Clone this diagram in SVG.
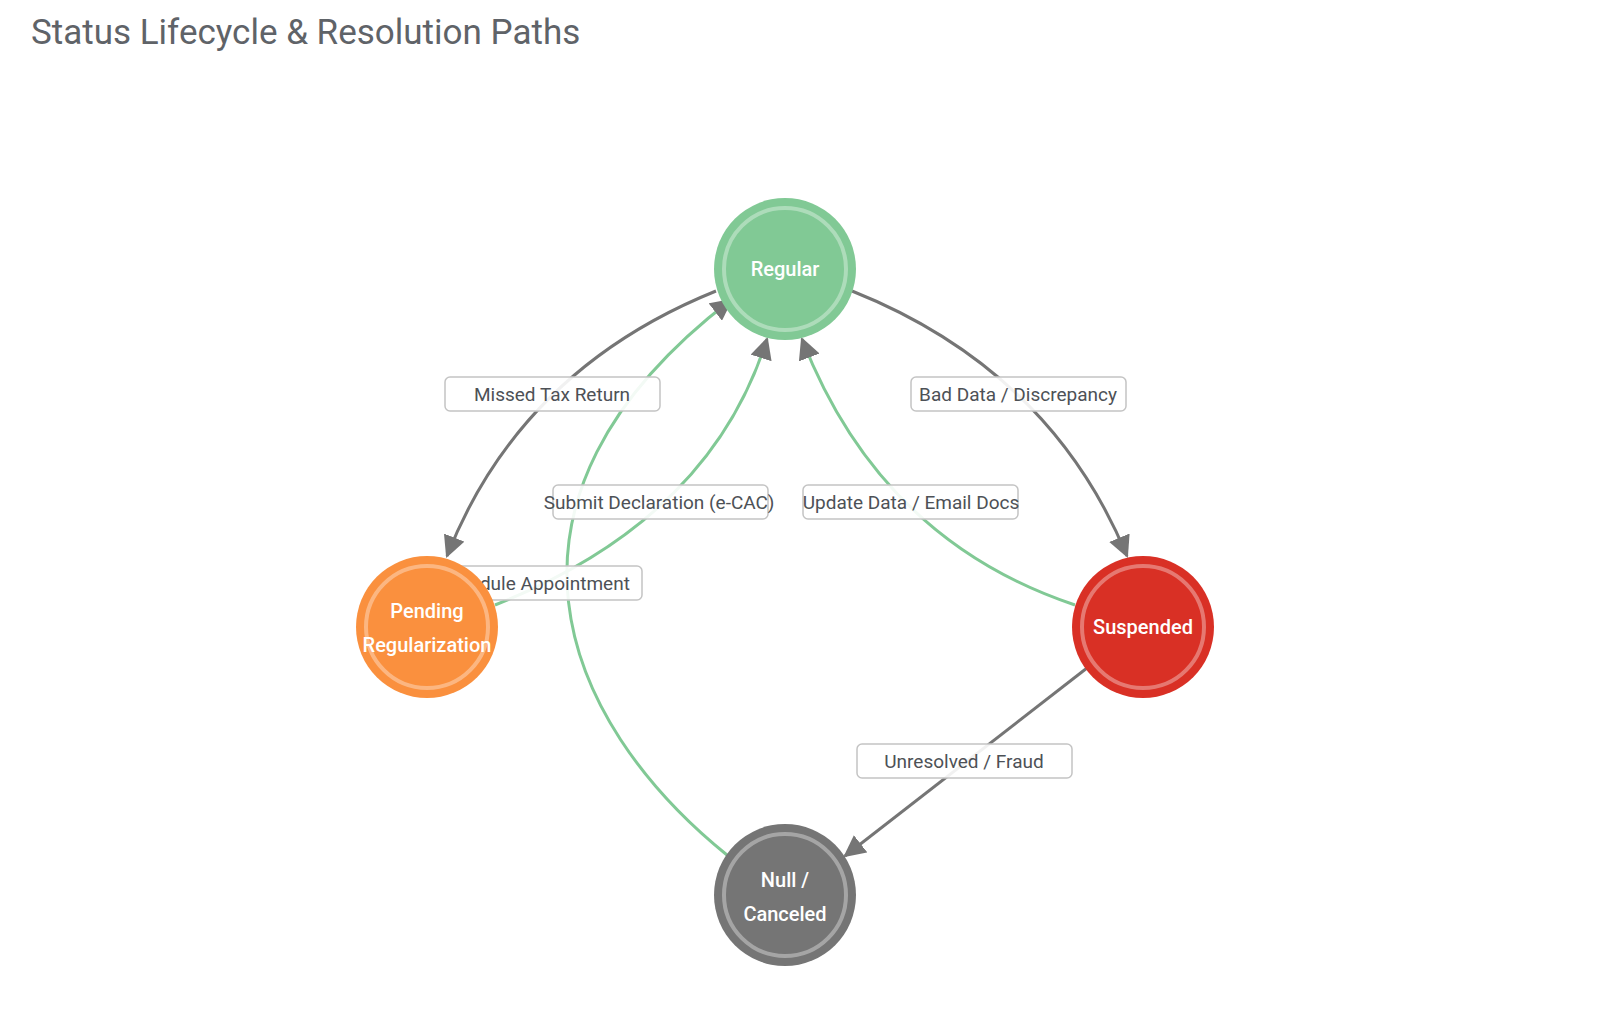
<svg xmlns="http://www.w3.org/2000/svg" width="1597" height="1020" viewBox="0 0 1597 1020">
<style>
text{font-family:Roboto,"Liberation Sans",sans-serif}
.t{font-size:35px;fill:#5f6368}
.e{fill:none;stroke-width:3}
.g{stroke:#757575}.gr{stroke:#81c995}
.lb rect{fill:#fff;fill-opacity:0.9;stroke:#c4c4c4;stroke-width:1.5}
.lb text{font-size:19px;fill:#4d5156;text-anchor:middle}
.n text{font-size:20px;fill:#fff;text-anchor:middle;font-weight:500}
.ring{fill:none;stroke:#fff;stroke-opacity:0.35;stroke-width:4}
</style>
<defs>
<marker id="ah" viewBox="0 0 10 10" refX="9" refY="5" markerWidth="22" markerHeight="22" markerUnits="userSpaceOnUse" orient="auto"><path d="M0,0L10,5L0,10z" fill="#757575"/></marker>
</defs>
<rect width="1597" height="1020" fill="#fff"/>
<text class="t" x="31" y="44">Status Lifecycle &amp; Resolution Paths</text>
<g id="edges">
<path class="e g" d="M716,291 Q520,370 447,556" marker-end="url(#ah)"/>
<path class="e g" d="M852,291 Q1050,370 1127,556" marker-end="url(#ah)"/>
<path class="e g" d="M1087,668 L845,856" marker-end="url(#ah)"/>
<path class="e gr" d="M495,605 Q710,520 767,339" marker-end="url(#ah)"/>
<path class="e gr" d="M1075,605 Q880,540 802,339" marker-end="url(#ah)"/>
<path class="e gr" d="M727,855 C560,720 470,500 731,300" marker-end="url(#ah)"/>
<g class="lb"><rect x="445" y="377" width="215" height="34" rx="5"/><text x="552" y="401">Missed Tax Return</text></g>
<g class="lb"><rect x="911" y="377" width="215" height="34" rx="5"/><text x="1018" y="401">Bad Data / Discrepancy</text></g>
<g class="lb"><rect x="553" y="485" width="215" height="34" rx="5"/><text x="659" y="509">Submit Declaration (e-CAC)</text></g>
<g class="lb"><rect x="803" y="485" width="215" height="34" rx="5"/><text x="911" y="509">Update Data / Email Docs</text></g>
<g class="lb"><rect x="427" y="566" width="215" height="34" rx="5"/><text x="534" y="590">Schedule Appointment</text></g>
<g class="lb"><rect x="857" y="744" width="215" height="34" rx="5"/><text x="964" y="768">Unresolved / Fraud</text></g>
</g>
<g id="regular" class="n"><circle cx="785" cy="269" r="71" fill="#81c995"/><circle class="ring" cx="785" cy="269" r="61"/><text x="785" y="276">Regular</text></g>
<g id="pending" class="n"><circle cx="427" cy="627" r="71" fill="#fa903e"/><circle class="ring" cx="427" cy="627" r="61"/><text x="427" y="618">Pending</text><text x="427" y="652">Regularization</text></g>
<g id="suspended" class="n"><circle cx="1143" cy="627" r="71" fill="#d93025"/><circle class="ring" cx="1143" cy="627" r="61"/><text x="1143" y="634">Suspended</text></g>
<g id="null" class="n"><circle cx="785" cy="895" r="71" fill="#757575"/><circle class="ring" cx="785" cy="895" r="61"/><text x="785" y="887">Null /</text><text x="785" y="921">Canceled</text></g>
</svg>
